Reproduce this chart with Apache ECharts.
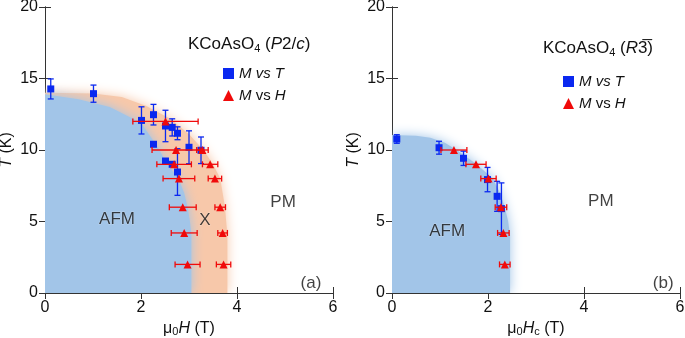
<!DOCTYPE html>
<html>
<head>
<meta charset="utf-8">
<script src="https://cdn.jsdelivr.net/npm/echarts@6/dist/echarts.min.js"></script>
<style>
  html, body { margin: 0; padding: 0; background: #fff; }
  #chart { width: 685px; height: 338px; }
</style>
</head>
<body>
<div id="chart"></div>
<script>
// panel (a): KCoAsO4 P2/c
const leftMvT_H = [0.12, 1.01, 2.01, 2.26, 2.51, 2.65, 2.76, 2.26, 3.0, 3.25, 2.51, 2.65, 2.76]
const leftMvT_T = [14.27, 13.94, 12.07, 12.47, 11.68, 11.58, 11.17, 10.4, 10.19, 9.98, 9.23, 9.0, 8.46]
const leftMvT_err = [0.7, 0.6, 0.95, 0.72, 1.1, 0.6, 0.45, 0.15, 1.15, 0.93, 0.15, 0.1, 1.63]
const leftMvH_H = [2.51, 2.73, 3.28, 2.69, 3.44, 2.79, 3.54, 2.87, 3.65, 2.9, 3.7, 2.97, 3.72]
const leftMvH_T = [12, 10, 10, 9, 9, 8, 8, 6, 6, 4.2, 4.2, 2, 2]
const leftMvH_err = [0.68, 0.5, 0.12, 0.36, 0.16, 0.33, 0.14, 0.28, 0.11, 0.27, 0.1, 0.26, 0.15]

// panel (b): KCoAsO4 R-3
const rightMvT_H = [0.1, 0.98, 1.49, 1.99, 2.19, 2.28]
const rightMvT_T = [10.77, 10.16, 9.42, 7.93, 6.76, 5.9]
const rightMvT_err = [0.3, 0.45, 0.5, 0.85, 1.05, 1.8]
const rightMvH_H = [1.29, 1.75, 2.01, 2.27, 2.32, 2.35]
const rightMvH_T = [10, 9, 8, 6, 4.2, 2]
const rightMvH_err = [0.27, 0.21, 0.16, 0.12, 0.12, 0.11]

// phase boundaries (H, T)
const leftAfmEdge = [[0, 13.9], [0.7, 13.55], [1.35, 13], [2, 11.9], [2.35, 10.2], [2.55, 9], [2.78, 8], [2.9, 7], [2.97, 6], [3.02, 5], [3.05, 4], [3.05, 0]]
const leftXEdge = [[0, 14], [1, 13.95], [1.6, 13.7], [2.1, 13.1], [2.6, 12.2], [3.0, 11.1], [3.3, 10], [3.5, 9], [3.65, 8], [3.75, 6], [3.8, 4], [3.8, 0]]
const rightAfmEdge = [[0, 11.05], [0.5, 11], [0.8, 10.85], [1.1, 10.5], [1.35, 10], [1.76, 9], [2.1, 8], [2.25, 7], [2.35, 6], [2.42, 5], [2.46, 4], [2.46, 0]]

const leftLabels = [['AFM', 1.5, 5.15], ['X', 3.33, 5.1], ['PM', 4.96, 6.36], ['(a)', 5.54, 0.7]]
const rightLabels = [['AFM', 1.15, 4.34], ['PM', 4.35, 6.43], ['(b)', 5.65, 0.7]]

const xTicks = [0, 2, 4, 6]
const yTicks = [0, 5, 10, 15, 20]

const BLUE = '#0a28f0'
const RED = '#f00a0a'
const AFM_COLOR = '#a2c5e8'
const X_COLOR = '#f7c8aa'
const INK = '#111'
const FONT = 'Liberation Sans, Arial, sans-serif'

const zip = (a, b, c) => a.map((v, i) => [v, b[i], c[i]])

function areaSeries(data, color, gi) {
  return {
    type: 'line',
    xAxisIndex: gi * 2,
    yAxisIndex: gi * 2,
    data: data,
    showSymbol: false,
    silent: true,
    clip: true,
    lineStyle: { width: 0 },
    areaStyle: { color: color, opacity: 1, shadowBlur: 12, shadowColor: color },
    z: 1
  }
}

function errSeries(data, color, horiz, gi) {
  return {
    type: 'custom',
    xAxisIndex: gi * 2,
    yAxisIndex: gi * 2,
    data: data,
    silent: true,
    z: horiz ? 4 : 2,
    renderItem: function(params, api) {
      const x = api.value(0)
      const y = api.value(1)
      const e = api.value(2)
      const cap = 3
      let a, b
      if (horiz) {
        a = api.coord([x - e, y])
        b = api.coord([x + e, y])
      } else {
        a = api.coord([x, y - e])
        b = api.coord([x, y + e])
      }
      const style = { stroke: color, lineWidth: 1.3 }
      const lines = [{ type: 'line', shape: { x1: a[0], y1: a[1], x2: b[0], y2: b[1] }, style: style }]
      ;[a, b].forEach(p => {
        lines.push(horiz
          ? { type: 'line', shape: { x1: p[0], y1: p[1] - cap, x2: p[0], y2: p[1] + cap }, style: style }
          : { type: 'line', shape: { x1: p[0] - cap, y1: p[1], x2: p[0] + cap, y2: p[1] }, style: style })
      })
      return { type: 'group', children: lines }
    }
  }
}

function pointSeries(name, data, symbol, size, color, gi, z) {
  return {
    name: name,
    type: 'scatter',
    xAxisIndex: gi * 2,
    yAxisIndex: gi * 2,
    data: data.map(d => [d[0], d[1]]),
    symbol: symbol,
    symbolSize: size,
    itemStyle: { color: color, opacity: 1 },
    silent: true,
    z: z
  }
}

function labelSeries(labels, gi) {
  return {
    type: 'scatter',
    xAxisIndex: gi * 2,
    yAxisIndex: gi * 2,
    data: labels.map(l => ({ name: l[0], value: [l[1], l[2]] })),
    symbolSize: 0,
    silent: true,
    z: 6,
    label: {
      show: true,
      position: 'inside',
      formatter: '{b}',
      color: INK,
      fontFamily: FONT,
      fontSize: 17,
      textBorderColor: 'rgba(255,255,255,0.35)',
      textBorderWidth: 1
    }
  }
}

const rich = {
  it: { fontStyle: 'italic', fontFamily: FONT, fontSize: 16, color: INK },
  n: { fontFamily: FONT, fontSize: 16, color: INK },
  sub: { fontFamily: FONT, fontSize: 11, color: INK, padding: [7, 0, 0, 0] }
}

function axisBase(extra) {
  return Object.assign({
    type: 'value',
    axisLine: { show: true, lineStyle: { color: '#333', width: 1 } },
    axisTick: { show: true, inside: true, length: 6, lineStyle: { color: '#333' } },
    splitLine: { show: false },
    axisLabel: { color: INK, fontFamily: FONT, fontSize: 16, margin: 7 }
  }, extra)
}

const xAxes = []
const yAxes = []
;[0, 1].forEach(gi => {
  xAxes.push(axisBase({
    gridIndex: gi, position: 'bottom', min: xTicks[0], max: xTicks[xTicks.length - 1], interval: 2,
    name: gi === 0 ? '{n|μ}{sub|0}{it|H}{n| (T)}' : '{n|μ}{sub|0}{it|H}{sub|c}{n| (T)}',
    nameLocation: 'middle', nameGap: 24,
    nameTextStyle: { rich: rich }
  }))
  xAxes.push(axisBase({
    gridIndex: gi, position: 'top', min: 0, max: 6, interval: 2,
    axisLabel: { show: false }
  }))
  yAxes.push(axisBase({
    gridIndex: gi, position: 'left', min: yTicks[0], max: yTicks[yTicks.length - 1], interval: 5,
    name: '{it|T}{n| (K)}', nameLocation: 'middle', nameGap: 30, nameRotate: 90,
    nameTextStyle: { rich: rich }
  }))
  yAxes.push(axisBase({
    gridIndex: gi, position: 'right', min: 0, max: 20, interval: 5,
    axisLabel: { show: false }
  }))
})

const legendStyle = {
  orient: 'vertical',
  itemWidth: 11,
  itemHeight: 11,
  itemGap: 7,
  data: ['M vs T', 'M vs H'],
  selectedMode: false,
  formatter: function(name) {
    return name === 'M vs T' ? '{i|M vs T}' : '{i|M}{r| vs }{i|H}'
  },
  textStyle: {
    rich: {
      i: { fontStyle: 'italic', fontFamily: FONT, fontSize: 15, color: INK },
      r: { fontFamily: FONT, fontSize: 15, color: INK }
    }
  }
}

const titleRich = {
  n: { fontFamily: FONT, fontSize: 17, fontWeight: 'normal', color: INK },
  it: { fontFamily: FONT, fontSize: 17, fontWeight: 'normal', fontStyle: 'italic', color: INK },
  sub: { fontFamily: FONT, fontSize: 11, fontWeight: 'normal', color: INK, padding: [8, 0, 0, 0] }
}

const leftMvT = zip(leftMvT_H, leftMvT_T, leftMvT_err)
const leftMvH = zip(leftMvH_H, leftMvH_T, leftMvH_err)
const rightMvT = zip(rightMvT_H, rightMvT_T, rightMvT_err)
const rightMvH = zip(rightMvH_H, rightMvH_T, rightMvH_err)

const chart = echarts.init(document.getElementById('chart'), null, { renderer: 'canvas' })
chart.setOption({
  animation: false,
  backgroundColor: '#fff',
  grid: [
    { left: 45, top: 7, width: 288, height: 286, outerBoundsMode: 'none', containLabel: false },
    { left: 392, top: 7, width: 288, height: 286, outerBoundsMode: 'none', containLabel: false }
  ],
  title: [
    { left: 183, top: 30, text: '{n|KCoAsO}{sub|4}{n| (}{it|P}{n|2/}{it|c}{n|)}', textStyle: { fontWeight: 'normal', rich: titleRich } },
    { left: 538, top: 34, text: '{n|KCoAsO}{sub|4}{n| (}{it|R}{n|3\u0305)}', textStyle: { fontWeight: 'normal', rich: titleRich } }
  ],
  legend: [
    Object.assign({ left: 218, top: 61 }, legendStyle),
    Object.assign({ left: 558, top: 69, itemGap: 9 }, legendStyle)
  ],
  xAxis: xAxes,
  yAxis: yAxes,
  series: [
    areaSeries(leftXEdge, X_COLOR, 0),
    areaSeries(leftAfmEdge, AFM_COLOR, 0),
    areaSeries(rightAfmEdge, AFM_COLOR, 1),
    errSeries(leftMvT, BLUE, false, 0),
    pointSeries('M vs T', leftMvT, 'rect', 7, BLUE, 0, 3),
    errSeries(leftMvH, RED, true, 0),
    pointSeries('M vs H', leftMvH, 'triangle', 8, RED, 0, 5),
    errSeries(rightMvT, BLUE, false, 1),
    pointSeries('M vs T', rightMvT, 'rect', 7, BLUE, 1, 3),
    errSeries(rightMvH, RED, true, 1),
    pointSeries('M vs H', rightMvH, 'triangle', 8, RED, 1, 5),
    labelSeries(leftLabels, 0),
    labelSeries(rightLabels, 1)
  ]
})
</script>
</body>
</html>
